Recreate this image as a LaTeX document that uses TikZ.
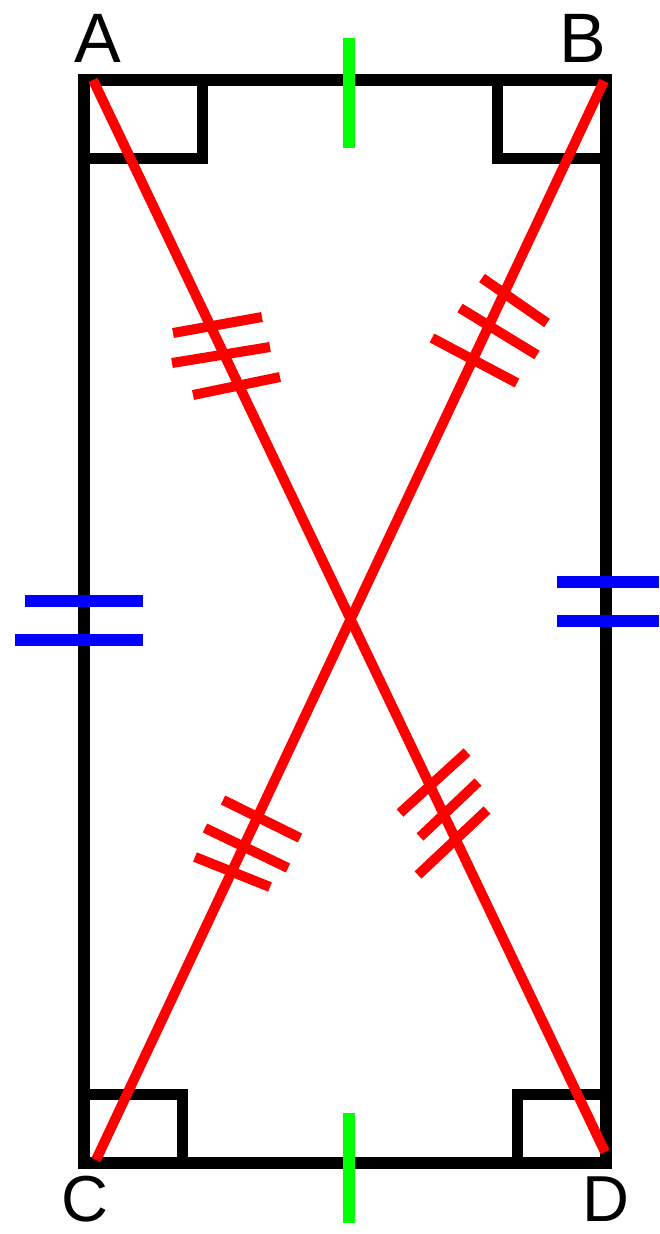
\documentclass[tikz,border=0pt]{standalone}
\usepackage{fontspec}
\setmainfont{Liberation Sans}
\begin{document}
\begin{tikzpicture}[x=1pt,y=-1pt,
  side/.style={line width=12pt,black,line join=miter},
  rightmark/.style={line width=11pt,black},
  diag/.style={line width=10pt,red},
  hash/.style={line width=10pt,red},
  gtick/.style={line width=12pt,green},
  btick/.style={line width=12pt,blue},
  lbl/.style={font=\fontsize{70}{70}\selectfont,inner sep=0pt,anchor=base},
  lowlbl/.style={font=\fontsize{65}{65}\selectfont,inner sep=0pt,anchor=base}]
\useasboundingbox (0,0) rectangle (659,1234);
\coordinate (A) at (83.5,79.5);
\coordinate (B) at (606,79.5);
\coordinate (C) at (83.5,1163);
\coordinate (D) at (606,1163);
% right-angle marks
\draw[rightmark] (A) rectangle (202.5,158.5);
\draw[rightmark] (B) rectangle (497,158.5);
\draw[rightmark] (C) rectangle (182.5,1094);
\draw[rightmark] (D) rectangle (517.5,1094);
% sides
\draw[side] (A) -- (B) -- (D) -- (C) -- cycle;
% diagonals
\coordinate (Ad) at (93,80);
\coordinate (Dd) at (605,1152);
\coordinate (Bd) at (604,81);
\coordinate (Cd) at (96,1160);
\draw[diag] (Ad) -- (Dd);
\draw[diag] (Bd) -- (Cd);
% hash marks
\draw[hash] (173,333) -- (262,317);
\draw[hash] (172,363) -- (270,347);
\draw[hash] (193,395) -- (280,377);
\draw[hash] (482,278) -- (547,323);
\draw[hash] (460,308) -- (537,355);
\draw[hash] (432,338) -- (517,383);
\draw[hash] (223,800) -- (300,838);
\draw[hash] (205,828) -- (288,868);
\draw[hash] (195,857) -- (270,887);
\draw[hash] (400,813) -- (467,752);
\draw[hash] (420,837) -- (478,782);
\draw[hash] (418,875) -- (487,810);
% green ticks
\draw[gtick] (349,38) -- (349,148);
\draw[gtick] (349,1113) -- (349,1223);
% blue ticks
\draw[btick] (25,601) -- (143,601);
\draw[btick] (15,640) -- (143,640);
\draw[btick] (557,582) -- (659,582);
\draw[btick] (557,621) -- (659,621);
% labels
\node[lbl] (la) at (98,62) {A};
\node[lbl] (lb) at (583,62) {B};
\node[lowlbl] (lc) at (85,1221) {C};
\node[lowlbl] (ld) at (606,1221) {D};
\end{tikzpicture}
\end{document}
